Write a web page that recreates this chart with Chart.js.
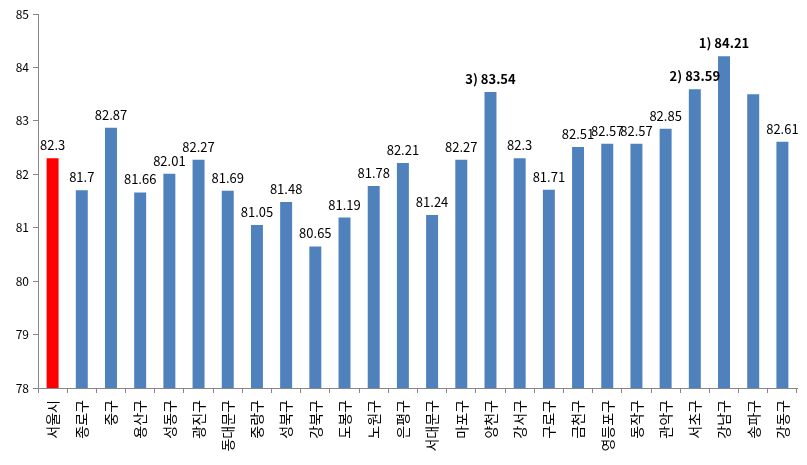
<!DOCTYPE html>
<html>
<head>
<meta charset="utf-8">
<script src="https://cdn.jsdelivr.net/npm/chart.js@4/dist/chart.umd.min.js"></script>
<style>
  html, body { margin: 0; padding: 0; background: #fff; }
  #wrap { width: 807px; height: 465px; }
</style>
</head>
<body>
<div id="wrap"><canvas id="chart"></canvas></div>
<script>
// District names
const categories = ['서울시', '종로구', '중구', '용산구', '성동구', '광진구', '동대문구', '중랑구', '성북구', '강북구',
    '도봉구', '노원구', '은평구', '서대문구', '마포구', '양천구', '강서구', '구로구', '금천구', '영등포구',
    '동작구', '관악구', '서초구', '강남구', '송파구', '강동구'];

// Values
const values = [82.3, 81.7, 82.87, 81.66, 82.01, 82.27, 81.69, 81.05, 81.48, 80.65,
    81.19, 81.78, 82.21, 81.24, 82.27, 83.54, 82.3, 81.71, 82.51, 82.57,
    82.57, 82.85, 83.59, 84.21, 83.5, 82.61];

// Text shown above each bar ('' = no label), ranked ones are bold
const valueLabels = ['82.3', '81.7', '82.87', '81.66', '82.01', '82.27', '81.69', '81.05', '81.48', '80.65',
    '81.19', '81.78', '82.21', '81.24', '82.27', '3) 83.54', '82.3', '81.71', '82.51', '82.57',
    '82.57', '82.85', '2) 83.59', '1) 84.21', '', '82.61'];

const yTicks = [78, 79, 80, 81, 82, 83, 84, 85];

const barColors = categories.map((c, i) => i === 0 ? '#ff0000' : '#4f81bd');

const FONT = "'Noto Sans CJK KR', 'Noto Sans', sans-serif";

// Draw value labels above bars
const barLabels = {
    id: 'barLabels',
    afterDatasetsDraw(chart) {
        const ctx = chart.ctx;
        const meta = chart.getDatasetMeta(0);
        ctx.save();
        ctx.fillStyle = '#000';
        ctx.textAlign = 'center';
        ctx.textBaseline = 'middle';
        meta.data.forEach((bar, i) => {
            const txt = valueLabels[i];
            if (!txt) return;
            const bold = txt.indexOf(')') !== -1;
            ctx.font = (bold ? 'bold ' : '') + '13px ' + FONT;
            ctx.fillText(txt, bar.x, bar.y - 13);
        });
        ctx.restore();
    }
};

new Chart(document.getElementById('chart'), {
    type: 'bar',
    data: {
        labels: categories,
        datasets: [{
            data: values,
            backgroundColor: barColors,
            borderWidth: 0,
            barPercentage: 0.82,
            categoryPercentage: 0.5
        }]
    },
    options: {
        responsive: true,
        maintainAspectRatio: false,
        animation: false,
        layout: { padding: { top: 14, right: 10, left: 0, bottom: 0 } },
        plugins: {
            legend: { display: false },
            tooltip: { enabled: false }
        },
        scales: {
            x: {
                grid: {
                    offset: true,
                    drawOnChartArea: false,
                    tickLength: 5,
                    color: '#868686'
                },
                border: { color: '#868686' },
                ticks: {
                    color: '#000',
                    font: { family: FONT, size: 14 },
                    minRotation: 90,
                    maxRotation: 90,
                    autoSkip: false,
                    padding: 7
                },
                afterFit(axis) { axis.height = 77; }
            },
            y: {
                min: 78,
                max: 85,
                afterBuildTicks(axis) { axis.ticks = yTicks.map(v => ({ value: v })); },
                grid: {
                    drawOnChartArea: false,
                    tickLength: 5,
                    color: '#868686'
                },
                border: { color: '#868686' },
                ticks: {
                    color: '#000',
                    font: { family: FONT, size: 12 },
                    padding: 4
                },
                afterFit(axis) { axis.width = 38; }
            }
        }
    },
    plugins: [barLabels]
});
</script>
</body>
</html>
